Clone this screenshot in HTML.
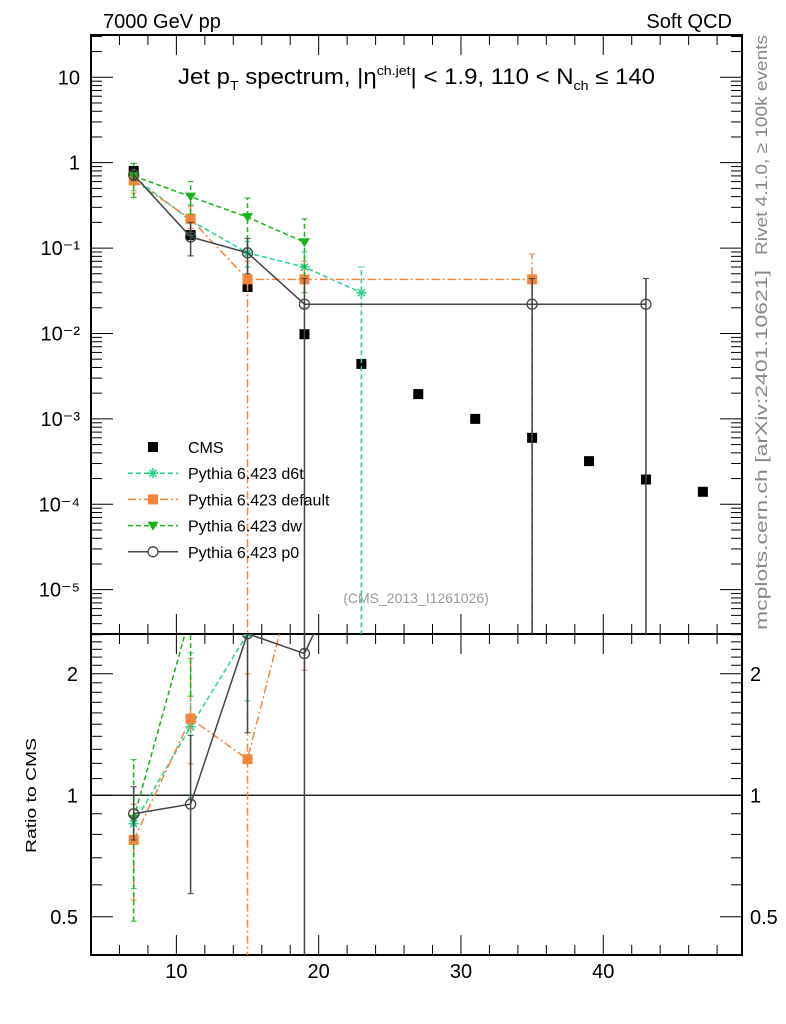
<!DOCTYPE html>
<html><head><meta charset="utf-8"><style>
html,body{margin:0;padding:0;background:#fff;overflow:hidden;width:786px;height:1024px;}
svg{display:block;font-family:"Liberation Sans",sans-serif;}
</style></head><body>
<svg id="c" width="786" height="1024" viewBox="0 0 786 1024" xmlns="http://www.w3.org/2000/svg">
<text x="103" y="28" font-size="20">7000 GeV pp</text>
<text x="732" y="28" font-size="20" text-anchor="end">Soft QCD</text>
<text x="178" y="84" font-size="22" textLength="477" lengthAdjust="spacingAndGlyphs">Jet p<tspan font-size="13" dy="6">T</tspan><tspan dy="-6"> spectrum, |η</tspan><tspan font-size="13" dy="-9">ch.jet</tspan><tspan dy="9">| &lt; 1.9, 110 &lt; N</tspan><tspan font-size="13" dy="6">ch</tspan><tspan dy="-6"> ≤ 140</tspan></text>
<text transform="translate(767,255) rotate(-90)" font-size="17" fill="#888" textLength="220" lengthAdjust="spacingAndGlyphs">Rivet 4.1.0, ≥ 100k events</text>
<text transform="translate(767,630) rotate(-90)" font-size="17" fill="#888" textLength="360" lengthAdjust="spacingAndGlyphs">mcplots.cern.ch [arXiv:2401.10621]</text>
<text x="416" y="603" font-size="14" fill="#999" text-anchor="middle">(CMS_2013_I1261026)</text>
<text transform="translate(36,853) rotate(-90)" font-size="15" textLength="115" lengthAdjust="spacingAndGlyphs">Ratio to CMS</text>
<g id="g"></g>
</svg>
<script>
const xs=[7,11,15,19,23,27,31,35,39,43,47];
const cms=[0.8,0.142,0.035,0.0098,0.0044,0.00195,0.001,0.0006,0.00032,0.000195,0.00014];
const d6tX=[7,11,15,19,23];
const d6tY=[0.68,0.21,0.088,0.06,0.03];
const d6tLo=[0.47,0.14,0.06,0.04,1e-9];
const d6tUp=[0.76,0.32,0.12,0.09,0.06];
const defX=[7,11,15,19,35];
const defY=[0.62,0.22,0.043,0.043,0.043];
const defLo=[0.44,0.17,1e-9,0.02,1e-9];
const defUp=[0.76,0.31,0.07,0.07,0.085];
const dwX=[7,11,15,19];
const dwY=[0.7,0.4,0.23,0.117];
const dwLo=[0.39,0.25,0.1,0.03];
const dwUp=[0.98,0.6,0.385,0.22];
const p0X=[7,11,15,19,35,43];
const p0Y=[0.72,0.135,0.088,0.022,0.022,0.022];
const p0Lo=[0.62,0.081,0.05,1e-9,1e-9,1e-9];
const p0Up=[0.84,0.2,0.13,0.044,0.044,0.044];
const xTicks=[10,20,30,40];
const yLabels=["10","1","10⁻¹","10⁻²","10⁻³","10⁻⁴","10⁻⁵"];
const rTicks=[0.5,1,2];

const L=91,R=742,T=35,M=634,B=955;
const X0=4,X1=49.75;
function sx(v){return L+(v-X0)/(X1-X0)*(R-L);}
const LT=1.495,LB=-5.519;
function sy(v){const l=Math.log10(Math.max(v,1e-12));return T+(LT-l)/(LT-LB)*(M-T);}
const RT=Math.log2(2.51),RB=Math.log2(0.402);
function sr(v){const l=Math.log2(Math.max(v,1e-9));return M+(RT-l)/(RT-RB)*(B-M);}
const g=document.getElementById('g');const NS='http://www.w3.org/2000/svg';
function el(t,a,p){const e=document.createElementNS(NS,t);for(const k in a)e.setAttribute(k,a[k]);(p||g).appendChild(e);return e;}
const defs=el('defs',{});
function clip(id,y0,y1){const c=el('clipPath',{id:id},defs);el('rect',{x:L,y:y0,width:R-L,height:y1-y0},c);}
clip('cm',T,M);clip('cr',M,B);

const frame=el('g',{stroke:'#000',fill:'none'});


el('rect',{x:L,y:T,width:R-L,height:M-T,'stroke-width':2},frame);
el('rect',{x:L,y:M,width:R-L,height:B-M,'stroke-width':2},frame);
for(let v=6;v<=48;v+=2){const major=v%10==0;const x=sx(v);const len=major?20:10;
 [[M,-1],[T,1],[B,-1],[M,1]].forEach(([y,d])=>el('line',{x1:x,x2:x,y1:y,y2:y+d*len,'stroke-width':1},frame));}
const lab=el('g',{fill:'#000'});
xTicks.forEach(v=>{const t=el('text',{x:sx(v),y:978,'font-size':20,'text-anchor':'middle'},lab);t.textContent=v;
 
 });
for(let e=-6;e<=1;e++){for(let m=1;m<10;m++){const v=m*Math.pow(10,e);const y=sy(v);if(y<T||y>M)continue;const len=m==1?22:11;
 el('line',{x1:L,x2:L+len,y1:y,y2:y},frame);el('line',{x1:R,x2:R-len,y1:y,y2:y},frame);}}
yLabels.forEach((s,i)=>{const v=Math.pow(10,1-i);const t=el('text',{x:80,y:sy(v)+7,'font-size':20,'text-anchor':'end'},lab);t.textContent=s;
 
 });
for(let k=4;k<=25;k++){const v=k/10;const y=sr(v);if(y<M||y>B)continue;const len=(v==0.5||v==1||v==2)?22:11;
 el('line',{x1:L,x2:L+len,y1:y,y2:y},frame);el('line',{x1:R,x2:R-len,y1:y,y2:y},frame);}
rTicks.forEach(v=>{[[78,'end'],[750,'start']].forEach(([x,a])=>{const t=el('text',{x:x,y:sr(v)+7,'font-size':20,'text-anchor':a},lab);t.textContent=v;
 
 });});
el('line',{x1:L,x2:R,y1:sr(1),y2:sr(1),stroke:'#000','stroke-width':1.2},frame);

function star(p,x,y,c){for(let a=0;a<4;a++){const an=a*Math.PI/4;el('line',{x1:x-5*Math.cos(an),y1:y-5*Math.sin(an),x2:x+5*Math.cos(an),y2:y+5*Math.sin(an),stroke:c,'stroke-width':1.5},p);}}
function marker(p,type,x,y,c){
 if(type=='sq')el('rect',{x:x-5,y:y-5,width:10,height:10,fill:c},p);
 else if(type=='star')star(p,x,y,c);
 else if(type=='tri')el('path',{d:`M${x-5.5} ${y-4}L${x+5.5} ${y-4}L${x} ${y+5}Z`,fill:c},p);
 else if(type=='circ')el('circle',{cx:x,cy:y,r:5,fill:'none',stroke:c,'stroke-width':1.3},p);}
function series(name,X,Y,Lo,Up,c,dash,type){
 [['cm',sy,v=>v,'main'],['cr',sr,(v,i)=>v/cms[xs.indexOf(X[i])],'ratio']].forEach(([cid,f,tr,pn])=>{
  const p=el('g',{'clip-path':`url(#${cid})`});
  
  
  const pts=X.map((x,i)=>[sx(x),f(tr(Y[i],i))]);
  el('polyline',{points:pts.map(q=>q.join(',')).join(' '),fill:'none',stroke:c,'stroke-width':1.5,'stroke-dasharray':dash},p);
  X.forEach((x,i)=>{if(pn=='ratio'&&x>20)return;const px=sx(x);const y1=f(tr(Lo[i],i)),y2=f(tr(Up[i],i));
   el('line',{x1:px,x2:px,y1:y1,y2:y2,stroke:c,'stroke-width':1.5,'stroke-dasharray':dash},p);
   el('line',{x1:px-3,x2:px+3,y1:y1,y2:y1,stroke:c},p);el('line',{x1:px-3,x2:px+3,y1:y2,y2:y2,stroke:c},p);
   marker(p,type,px,pts[i][1],c);});
 });}
const cg=el('g',{'clip-path':'url(#cm)'});


xs.forEach((x,i)=>marker(cg,'sq',sx(x),sy(cms[i]),'#000'));
series('pythia-d6t',d6tX,d6tY,d6tLo,d6tUp,'#22d38c','5,3','star');
series('pythia-default',defX,defY,defLo,defUp,'#f5853a','8,3,2,3','sq');
series('pythia-dw',dwX,dwY,dwLo,dwUp,'#17b217','5,3','tri');
series('pythia-p0',p0X,p0Y,p0Lo,p0Up,'#444','','circ');
const lg=el('g',{});


const leg=[['CMS','#000','','sq',false],['Pythia 6.423 d6t','#22d38c','5,3','star',true],['Pythia 6.423 default','#f5853a','8,3,2,3','sq',true],['Pythia 6.423 dw','#17b217','5,3','tri',true],['Pythia 6.423 p0','#444','','circ',true]];
leg.forEach((e,i)=>{const y=447+i*26.2;
 if(e[4])el('line',{x1:128,x2:178,y1:y,y2:y,stroke:e[1],'stroke-width':1.5,'stroke-dasharray':e[2]},lg);
 if(e[3]=='circ')el('circle',{cx:153,cy:y,r:5,fill:'#fff',stroke:e[1],'stroke-width':1.3},lg);else marker(lg,e[3],153,y,e[1]);
 const t=el('text',{x:188,y:y+6,'font-size':16},lg);t.textContent=e[0];});
</script>
</body></html>
